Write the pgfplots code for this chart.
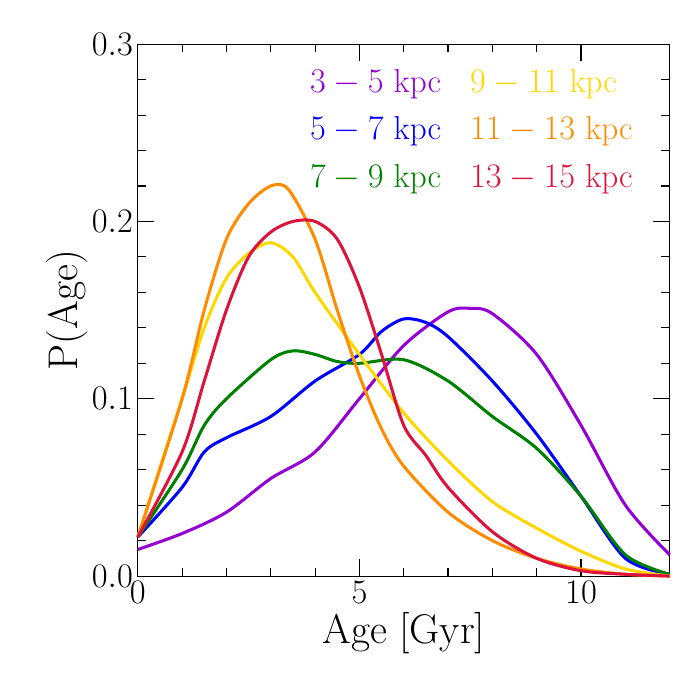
\documentclass[border=0pt]{standalone}
\usepackage{pgfplots}
\pgfplotsset{compat=1.18}
\definecolor{cpur}{RGB}{148,0,211}
\definecolor{cblu}{RGB}{0,0,255}
\definecolor{cgre}{RGB}{0,128,0}
\definecolor{cyel}{RGB}{255,215,0}
\definecolor{cora}{RGB}{255,140,0}
\definecolor{cred}{RGB}{220,20,60}
\begin{document}
\begin{tikzpicture}
\begin{axis}[width=5.32in,height=5.32in,scale only axis,
 xmin=0,xmax=12,ymin=0,ymax=0.3,
 xtick={0,5,10},ytick={0,0.1,0.2,0.3},
 yticklabel style={/pgf/number format/fixed,/pgf/number format/precision=1,/pgf/number format/fixed zerofill},
 minor x tick num=4, minor y tick num=4,
 tick align=inside, xtick pos=both, ytick pos=both,
 major tick length=12pt, minor tick length=6pt,
 every tick/.style={black,line width=0.8pt},
 axis line style={line width=0.8pt},
 tick label style={font=\fontsize{30}{34}\selectfont},
 label style={font=\fontsize{30}{34}\selectfont},
 xlabel={Age [Gyr]}, ylabel={P(Age)},
 ylabel style={yshift=-4pt},
 clip=false,
 every axis plot/.append style={line width=2.2pt,smooth,tension=0.5,no marks},
]
\path (rel axis cs:-0.259,-0.233) rectangle (rel axis cs:1.056,1.083);
\addplot[cpur] coordinates {(0,0.015)(1,0.024)(2,0.036)(3,0.055)(4,0.07)(5,0.1)(6,0.13)(7,0.149)(7.5,0.151)(8,0.148)(9,0.125)(10,0.085)(11,0.04)(12,0.012)};
\addplot[cblu] coordinates {(0,0.022)(1,0.05)(1.5,0.07)(2,0.078)(3,0.09)(4,0.11)(5,0.125)(5.5,0.138)(6,0.145)(6.5,0.143)(7,0.135)(8,0.11)(9,0.08)(10,0.045)(11,0.01)(12,0.001)};
\addplot[cgre] coordinates {(0,0.022)(1,0.06)(1.5,0.085)(2,0.1)(3,0.122)(3.5,0.127)(4,0.125)(4.5,0.121)(5,0.12)(6,0.122)(7,0.11)(8,0.09)(9,0.072)(10,0.045)(11,0.012)(12,0.001)};
\addplot[cyel] coordinates {(0,0.022)(1,0.1)(1.5,0.14)(2,0.168)(2.5,0.182)(3,0.188)(3.5,0.18)(4,0.16)(5,0.125)(6,0.092)(7,0.065)(8,0.042)(9,0.027)(10,0.014)(11,0.004)(12,0)};
\addplot[cora] coordinates {(0,0.022)(1,0.1)(1.5,0.15)(2,0.19)(2.5,0.21)(3,0.22)(3.4,0.218)(4,0.19)(4.5,0.15)(5,0.113)(5.5,0.083)(6,0.062)(7,0.036)(8,0.02)(9,0.01)(10,0.004)(11,0.001)(12,0)};
\addplot[cred] coordinates {(0,0.022)(1,0.07)(1.5,0.11)(2,0.15)(2.5,0.18)(3,0.194)(3.5,0.2)(4,0.2)(4.5,0.19)(5,0.163)(5.5,0.125)(6,0.085)(6.5,0.068)(7,0.05)(8,0.025)(9,0.01)(10,0.003)(11,0.001)(12,0)};
\begin{scope}[every node/.style={anchor=west,font=\fontsize{24}{28}\selectfont,inner sep=0pt}]
\node[cpur] at (axis cs:3.88,0.2775) {$3-5$ kpc};
\node[cblu] at (axis cs:3.88,0.251) {$5-7$ kpc};
\node[cgre] at (axis cs:3.88,0.224) {$7-9$ kpc};
\node[cyel] at (axis cs:7.49,0.2775) {$9-11$ kpc};
\node[cora] at (axis cs:7.49,0.251) {$11-13$ kpc};
\node[cred] at (axis cs:7.49,0.224) {$13-15$ kpc};
\end{scope}
\end{axis}
\end{tikzpicture}
\end{document}
